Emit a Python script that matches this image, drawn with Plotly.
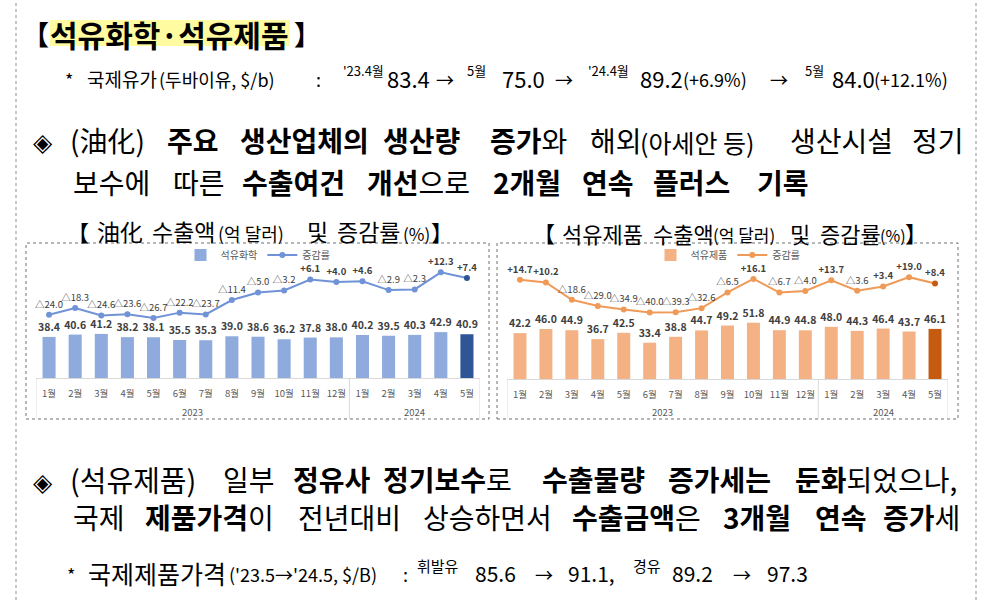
import plotly.graph_objects as go

W, H = 991, 600
KR = "Noto Sans CJK KR"

# ---- chart data ---------------------------------------------------------
months = ["1월", "2월", "3월", "4월", "5월", "6월", "7월", "8월", "9월", "10월", "11월", "12월",
          "1월", "2월", "3월", "4월", "5월"]
years = ["2023"] * 12 + ["2024"] * 5

petchem_export = [38.4, 40.6, 41.2, 38.2, 38.1, 35.5, 35.3, 39.0, 38.6, 36.2, 37.8, 38.0,
                  40.2, 39.5, 40.3, 42.9, 40.9]
petchem_growth = [-24.0, -18.3, -24.6, -23.6, -26.7, -22.2, -23.7, -11.4, -5.0, -3.2, 6.1, 4.0,
                  4.6, -2.9, -2.3, 12.3, 7.4]

product_export = [42.2, 46.0, 44.9, 36.7, 42.5, 33.4, 38.8, 44.7, 49.2, 51.8, 44.9, 44.8,
                  48.0, 44.3, 46.4, 43.7, 46.1]
product_growth = [14.7, 10.2, -18.6, -29.0, -34.9, -40.0, -39.3, -32.6, -6.5, 16.1, -6.7, -4.0,
                  13.7, -3.6, 3.4, 19.0, 8.4]

pos = list(range(len(months)))


def px(x):
    return x / W


def py(y):
    return 1 - y / H


def rate_text(vals):
    return [f"<b>+{v:.1f}</b>" if v > 0 else f"△{abs(v):.1f}" for v in vals]


def bar_colors(n, light, dark):
    return [light] * (n - 1) + [dark]


fig = go.Figure()

bar_font = dict(size=10.5, family=KR, color="#404040", weight="bold")
rate_font = dict(size=9.5, family=KR, color="#404040")

# left chart: petrochemicals
fig.add_bar(x=pos, y=petchem_export, name="석유화학",
            marker_color=bar_colors(len(petchem_export), "#8FAADC", "#2F5597"),
            width=0.5, texttemplate="%{y:.1f}", textposition="outside",
            outsidetextfont=bar_font, constraintext="none",
            cliponaxis=False, xaxis="x", yaxis="y", legend="legend")
fig.add_scatter(x=pos, y=petchem_growth, name="증감률", mode="lines+markers+text",
                line=dict(color="#6F93D6", width=2),
                marker=dict(size=6, color=bar_colors(len(petchem_growth), "#6F93D6", "#2F5597")),
                text=rate_text(petchem_growth), textposition="top center", textfont=rate_font,
                cliponaxis=False, xaxis="x", yaxis="y2", legend="legend")

# right chart: petroleum products
fig.add_bar(x=pos, y=product_export, name="석유제품",
            marker_color=bar_colors(len(product_export), "#F4B183", "#C55A11"),
            width=0.5, texttemplate="%{y:.1f}", textposition="outside",
            outsidetextfont=bar_font, constraintext="none",
            cliponaxis=False, xaxis="x2", yaxis="y3", legend="legend2")
fig.add_scatter(x=pos, y=product_growth, name="증감률", mode="lines+markers+text",
                line=dict(color="#F09A58", width=2),
                marker=dict(size=6, color=bar_colors(len(product_growth), "#F09A58", "#C55A11")),
                text=rate_text(product_growth), textposition="top center", textfont=rate_font,
                cliponaxis=False, xaxis="x2", yaxis="y4", legend="legend2")

month_axis = dict(tickmode="array", tickvals=pos, ticktext=months, range=[-0.5, len(pos) - 0.5],
                  showline=True, linecolor="#D9D9D9", linewidth=1, ticks="", tickangle=0,
                  ticklabelstandoff=7, tickfont=dict(size=9.5, family=KR, color="#595959"),
                  showgrid=False, zeroline=False, automargin=False, fixedrange=True)
hidden = dict(visible=False, showgrid=False, zeroline=False, fixedrange=True)

legend_style = dict(orientation="h", yanchor="middle", xanchor="center",
                    font=dict(size=10, family=KR, color="#595959"),
                    bgcolor="rgba(0,0,0,0)", itemwidth=30, tracegroupgap=0)

fig.update_layout(
    width=W, height=H, margin=dict(l=0, r=0, t=0, b=0),
    template="none", paper_bgcolor="white", plot_bgcolor="rgba(0,0,0,0)",
    xaxis=dict(month_axis, domain=[px(36), px(480)], anchor="y"),
    yaxis=dict(hidden, domain=[py(378), py(260)], range=[0, 110.3], anchor="x"),
    yaxis2=dict(hidden, overlaying="y", range=[-78.2, 22.9], anchor="x"),
    xaxis2=dict(month_axis, domain=[px(507), px(948)], anchor="y3"),
    yaxis3=dict(hidden, domain=[py(379), py(260)], range=[0, 109.5], anchor="x2"),
    yaxis4=dict(hidden, overlaying="y3", range=[-150.7, 47.6], anchor="x2"),
    legend=dict(legend_style, x=px(258), y=py(255)),
    legend2=dict(legend_style, x=px(728), y=py(255)),
)

# ---- frames and highlight -----------------------------------------------
shapes = [
    dict(type="line", x0=px(16), x1=px(16), y0=0, y1=1, line=dict(color="#8C8C8C", width=1, dash="dot")),
    dict(type="line", x0=px(976), x1=px(976), y0=0, y1=1, line=dict(color="#8C8C8C", width=1, dash="dot")),
    dict(type="rect", x0=px(26), x1=px(489), y0=py(419), y1=py(243), line=dict(color="#707070", width=1, dash="dot")),
    dict(type="rect", x0=px(497), x1=px(958), y0=py(419), y1=py(243), line=dict(color="#707070", width=1, dash="dot")),
    dict(type="rect", x0=px(50), x1=px(290), y0=py(46), y1=py(20), line=dict(width=0), fillcolor="#FFFBA0", layer="below"),
]
for s in shapes:
    s.update(xref="paper", yref="paper")
    fig.add_shape(**s)

# year groups under the month labels, with divider lines
groups = {}
for i, yr in enumerate(years):
    groups.setdefault(yr, []).append(i)
for xref, base in (("x", 378), ("x2", 379)):
    edges = []
    for yr, idx in groups.items():
        fig.add_annotation(x=(idx[0] + idx[-1]) / 2, y=py(412), xref=xref, yref="paper", text=yr,
                           showarrow=False, xanchor="center", yanchor="middle",
                           font=dict(size=9.5, family=KR, color="#595959"))
        edges += [idx[0] - 0.5, idx[-1] + 0.5]
    for e in sorted(set(edges)):
        fig.add_shape(type="line", xref=xref, yref="paper", x0=e, x1=e, y0=py(base), y1=py(419),
                      line=dict(color="#D9D9D9", width=1))


def put(x, base, text, size, weight=400):
    # place text by its left edge and baseline
    fig.add_annotation(x=px(x), y=py(base - 0.38 * size), xref="paper", yref="paper",
                       text=text, showarrow=False, xanchor="left", yanchor="middle",
                       borderpad=0, borderwidth=0,
                       font=dict(size=size, family=KR, color="black", weight=weight))


# heading
put(22, 44, "【", 27, 700)
put(50, 45, "석유화학·석유제품", 30, 700)
put(294, 44, "】", 27, 700)

# crude oil price line
put(65, 86, "*", 18)
put(87, 86, "국제유가", 19)
put(159, 86, "(두바이유, $/b)", 18)
put(316, 86, ":", 18)
put(343, 75, "'23.4월", 13)
put(387, 86, "83.4", 22)
put(436, 86, "→", 18)
put(467, 75, "5월", 13)
put(502, 86, "75.0", 22)
put(555, 86, "→", 18)
put(588, 75, "'24.4월", 13)
put(640, 86, "89.2", 22)
put(683, 86, "(+6.9%)", 18)
put(770, 86, "→", 18)
put(805, 75, "5월", 13)
put(832, 86, "84.0", 22)
put(874, 86, "(+12.1%)", 18)

# petrochemical bullet
put(33, 150, "◈", 25)
put(70, 151, "(油化)", 28)
put(167, 151, "주요", 28, 700)
put(240, 151, "생산업체의", 28, 700)
put(383, 151, "생산량", 28, 700)
put(490, 151, "<b>증가</b>와", 28)
put(590, 151, "해외", 28)
put(640, 151, "(아세안 등)", 25)
put(790, 151, "생산시설", 28)
put(912, 151, "정기", 28)

put(73, 193, "보수에", 28)
put(173, 193, "따른", 28)
put(242, 193, "수출여건", 28, 700)
put(367, 193, "<b>개선</b>으로", 28)
put(493, 193, "2개월", 28, 700)
put(582, 193, "연속", 28, 700)
put(653, 193, "플러스", 28, 700)
put(757, 193, "기록", 28, 700)

# chart titles
put(67, 239, "【", 22)
put(97, 240, "油化", 23)
put(152, 240, "수출액", 23)
put(218, 240, "(억 달러)", 18)
put(307, 240, "및", 23)
put(337, 240, "증감률", 23)
put(403, 240, "(%)", 17)
put(431, 239, "】", 22)

put(533, 240, "【", 22)
put(562, 241, "석유제품", 22)
put(653, 241, "수출액", 22)
put(713, 241, "(억 달러)", 17)
put(790, 241, "및", 22)
put(820, 241, "증감률", 22)
put(880, 241, "(%)", 16)
put(905, 240, "】", 22)

# petroleum products bullet
put(33, 489, "◈", 25)
put(70, 490, "(석유제품)", 29)
put(223, 490, "일부", 28)
put(293, 490, "정유사", 28, 700)
put(383, 490, "<b>정기보수</b>로", 28)
put(542, 490, "수출물량", 28, 700)
put(668, 490, "증가세는", 28, 700)
put(795, 490, "<b>둔화</b>되었으나,", 28)

put(73, 528, "국제", 28)
put(145, 528, "<b>제품가격</b>이", 28)
put(298, 528, "전년대비", 28)
put(423, 528, "상승하면서", 28)
put(572, 528, "<b>수출금액</b>은", 28)
put(723, 528, "3개월", 28, 700)
put(815, 528, "연속", 28, 700)
put(883, 528, "<b>증가</b>세", 28)

# product price line
put(67, 581, "*", 18)
put(88, 582, "국제제품가격", 25)
put(229, 581, "('23.5→'24.5, $/B)", 18)
put(403, 581, ":", 18)
put(417, 571, "휘발유", 15)
put(475, 581, "85.6", 21)
put(535, 581, "→", 18)
put(568, 581, "91.1,", 21)
put(633, 571, "경유", 15)
put(672, 581, "89.2", 21)
put(733, 581, "→", 18)
put(767, 581, "97.3", 21)

fig.write_html("out.html", config={"displayModeBar": False},
               post_script="document.body.style.margin='0px';")
